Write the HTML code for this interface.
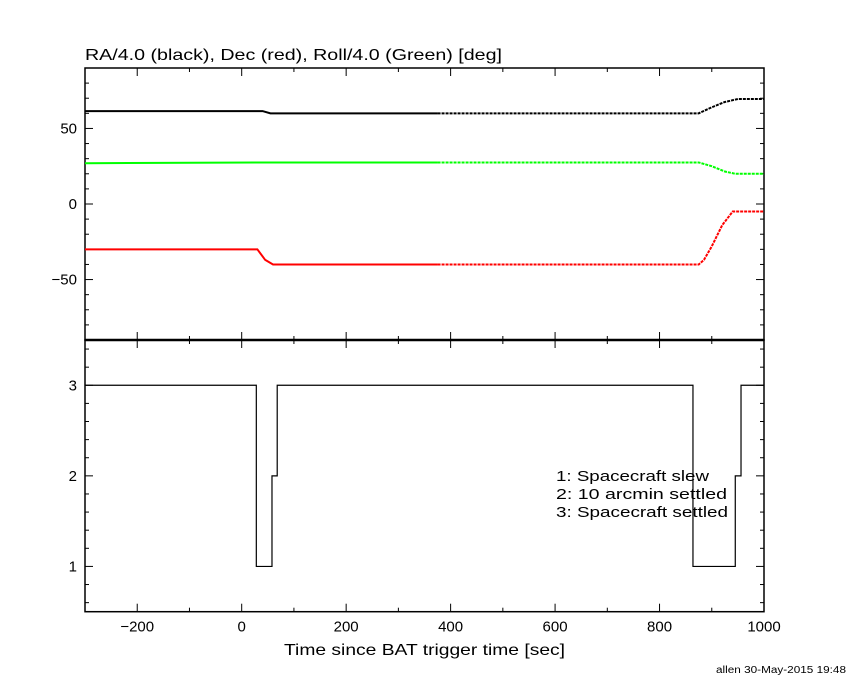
<!DOCTYPE html>
<html><head><meta charset="utf-8"><style>
body{margin:0;background:#fff;width:850px;height:680px;overflow:hidden}
svg text{font-family:"Liberation Sans",sans-serif;fill:#000}
</style></head><body>
<svg id="c" width="850" height="680" xmlns="http://www.w3.org/2000/svg">
<text x="85" y="60" font-size="16" textLength="417" lengthAdjust="spacingAndGlyphs">RA/4.0 (black), Dec (red), Roll/4.0 (Green) [deg]</text>
<text x="284" y="655" font-size="16" textLength="281" lengthAdjust="spacingAndGlyphs">Time since BAT trigger time [sec]</text>
<text x="716" y="673" font-size="10" textLength="130" lengthAdjust="spacingAndGlyphs">allen 30-May-2015 19:48</text>
<text x="556" y="481" font-size="15" textLength="153" lengthAdjust="spacingAndGlyphs">1: Spacecraft slew</text>
<text x="556" y="499" font-size="15" textLength="171" lengthAdjust="spacingAndGlyphs">2: 10 arcmin settled</text>
<text x="556" y="517" font-size="15" textLength="172" lengthAdjust="spacingAndGlyphs">3: Spacecraft settled</text>
</svg>
<script>
const xTicks=[-200,0,200,400,600,800,1000];
const topTicks=[-50,0,50];
const botTicks=[1,2,3];
const raT=[-300,40,55,375,875,900,925,950,1000];
const raV=[61.5,61.5,60,60,60,64,67.5,69.5,69.5];
const decT=[-300,30,45,60,375,875,885,900,920,940,1000];
const decV=[-30,-30,-37,-40,-40,-40,-37,-28,-14,-5,-5];
const rollT=[-300,40,375,875,900,925,945,1000];
const rollV=[27,27.5,27.5,27.5,25,21.5,20,20];
const stT=[-300,28,58,68,864,945,956,1000];
const stV=[3,1,2,3,1,2,3,3];
const svg=document.getElementById('c');const NS='http://www.w3.org/2000/svg';
const L=85,R=764,T1=68,B1=340,T2=340,B2=611.7;
const X=t=>L+(t+300)/1300*(R-L);
const Y1=v=>T1+(90-v)/180*(B1-T1);
const Y2=v=>T2+(3.5-v)/3*(B2-T2);
function mk(tag,a){const e=document.createElementNS(NS,tag);for(const k in a)e.setAttribute(k,a[k]);svg.appendChild(e);return e;}
function line(x1,y1,x2,y2,w){return mk('line',{x1,y1,x2,y2,stroke:'#000','stroke-width':w||1});}
let f1=mk('rect',{x:L,y:T1,width:R-L,height:B1-T1,fill:'none',stroke:'#000','stroke-width':1.5});

let f2=mk('rect',{x:L,y:T2,width:R-L,height:B2-T2,fill:'none',stroke:'#000','stroke-width':1.5});

line(L,340,R,340,2.5);
for(let t=-200;t<=1000;t+=100){const x=X(t),m=t%200===0?8:4;
 line(x,T1,x,T1+m);line(x,B1-m,x,B1+m);line(x,B2,x,B2-m);}
xTicks.forEach(t=>{const e=mk('text',{x:X(t),y:B2+20,'font-size':15,'text-anchor':'middle'});e.textContent=t<0?'\u2212'+(-t):t;
 });
for(let v=-80;v<=80;v+=10){const y=Y1(v),m=v%50===0?8:4;line(L,y,L+m,y);line(R,y,R-m,y);}
topTicks.forEach(v=>{const e=mk('text',{x:L-8,y:Y1(v)+5,'font-size':15,'text-anchor':'end'});e.textContent=v<0?'\u2212'+(-v):v;
 });
for(let i=3;i<=17;i++){const v=i/5,y=Y2(v),m=(i%5===0)?8:4;line(L,y,L+m,y);line(R,y,R-m,y);}
botTicks.forEach(v=>{const e=mk('text',{x:L-8,y:Y2(v)+5,'font-size':15,'text-anchor':'end'});e.textContent=v;
 });
function series(ts,vs,col,name){
 const sol=[],dot=[];
 for(let i=0;i<ts.length;i++){if(ts[i]<=375)sol.push([ts[i],vs[i]]);if(ts[i]>=375)dot.push([ts[i],vs[i]]);}
 const p1=mk('polyline',{points:sol.map(p=>X(p[0])+','+Y1(p[1])).join(' '),fill:'none',stroke:col,'stroke-width':2});
 
 const p2=mk('polyline',{points:dot.map(p=>X(p[0])+','+Y1(p[1])).join(' '),fill:'none',stroke:col,'stroke-width':2,'stroke-dasharray':'3,1'});
 
}
series(raT,raV,'#000','ra');series(decT,decV,'#f00','dec');series(rollT,rollV,'#0f0','roll');
let pts=[];for(let i=0;i<stT.length;i++){if(i>0)pts.push([stT[i],stV[i-1]]);pts.push([stT[i],stV[i]]);}
const st=mk('polyline',{points:pts.map(p=>X(p[0])+','+Y2(p[1])).join(' '),fill:'none',stroke:'#000','stroke-width':1.2});

</script>
</body></html>
